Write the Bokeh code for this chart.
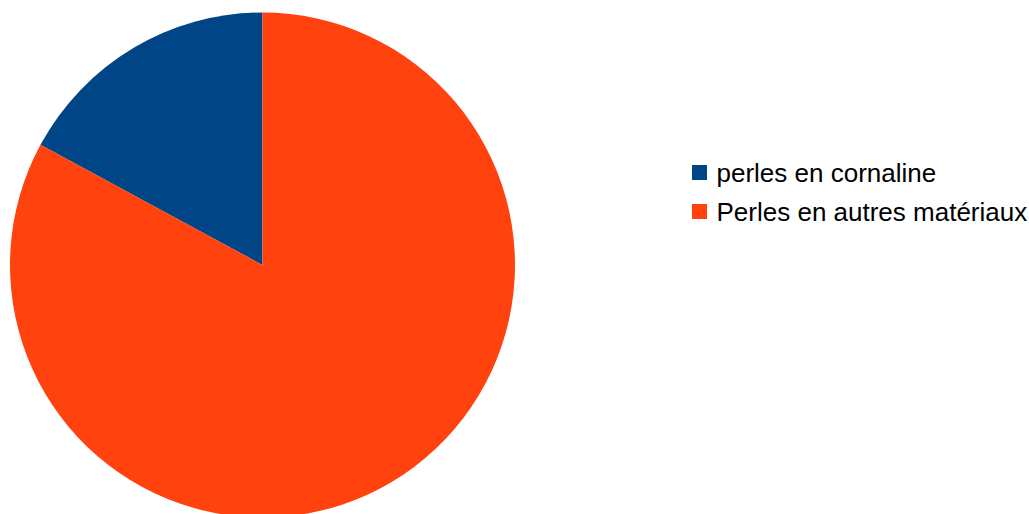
import math
from bokeh.plotting import figure
from bokeh.models import ColumnDataSource
from bokeh.core.properties import value
from bokeh.embed import file_html
from bokeh.resources import INLINE

# ---- data ----
categories = ["perles en cornaline", "Perles en autres matériaux"]
values = [17.1, 82.9]
colors = ["#004586", "#ff420e"]

# ---- layout (pixel-like data units, y up) ----
W, H = 1029, 514
cx, cy, r = 262, H - 264.5, 252.5

total = sum(values)
starts, ends = [], []
acc = 0.0
for v in values:
    a0 = math.pi / 2 + 2 * math.pi * acc / total
    acc += v
    a1 = math.pi / 2 + 2 * math.pi * acc / total
    starts.append(a0)
    ends.append(a1)

src = ColumnDataSource(dict(cat=categories, val=values, color=colors,
                            start=starts, end=ends))

p = figure(width=W, height=H, x_range=(0, W), y_range=(0, H),
           output_backend="svg", toolbar_location=None, min_border=0,
           outline_line_color=None)
p.axis.visible = False
p.grid.visible = False
p.background_fill_color = "white"
p.border_fill_color = "white"

p.wedge(x=cx, y=cy, radius=r, radius_units="data",
        start_angle="start", end_angle="end", fill_color="color",
        line_color=None, source=src)

# legend drawn manually
row0 = H - 172
step = 39
ly = [row0 - i * step for i in range(len(categories))]
lsrc = ColumnDataSource(dict(y=ly, cat=categories, color=colors))
p.rect(x=699, y="y", width=15, height=15, width_units="screen",
       height_units="screen", fill_color="color", line_color=None, source=lsrc)
p.text(x=716, y="y", text="cat", text_font=value("Liberation Sans"),
       text_font_size="26px", text_baseline="middle", text_color="#000000",
       source=lsrc)

open("out.html", "w").write(file_html(p, INLINE))
